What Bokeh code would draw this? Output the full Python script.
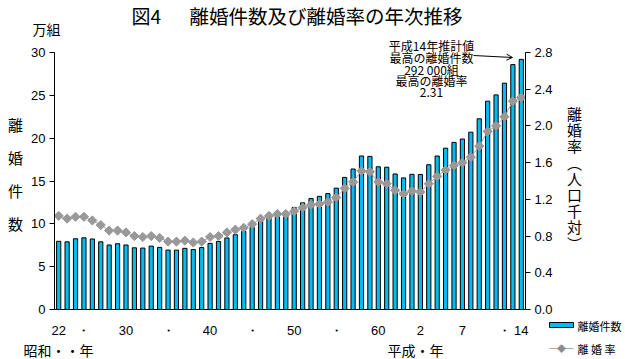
import math
from bokeh.plotting import figure
from bokeh.models import (Range1d, LinearAxis, FixedTicker, Arrow, OpenHead,
                          PrintfTickFormatter)
from bokeh.core.properties import value
from bokeh.embed import file_html
from bokeh.resources import INLINE

# ---- data: 昭和22年(1947) - 平成14年(2002) ----
counts = [7.96, 7.90, 8.26, 8.37, 8.23, 7.90, 7.53, 7.68, 7.53, 7.20,
          7.17, 7.40, 7.25, 6.94, 6.93, 7.14, 7.00, 7.23, 7.72, 7.94,
          8.35, 8.73, 9.13, 9.59, 10.36, 10.84, 11.19, 11.36, 11.91, 12.45,
          12.95, 13.21, 13.53, 14.17, 15.42, 16.40, 17.92, 17.87, 16.66, 16.61,
          15.82, 15.36, 15.78, 15.76, 16.90, 17.92, 18.83, 19.51, 19.90, 20.70,
          22.26, 24.32, 25.05, 26.42, 28.59, 29.20]  # 万組
rates = [1.02, 0.99, 1.01, 1.01, 0.97, 0.92, 0.86, 0.86, 0.84, 0.80,
         0.79, 0.80, 0.78, 0.74, 0.74, 0.75, 0.73, 0.74, 0.79, 0.80,
         0.84, 0.87, 0.89, 0.93, 0.99, 1.02, 1.04, 1.04, 1.07, 1.11,
         1.14, 1.15, 1.17, 1.22, 1.32, 1.39, 1.51, 1.50, 1.39, 1.37,
         1.30, 1.26, 1.29, 1.28, 1.37, 1.45, 1.52, 1.57, 1.60, 1.66,
         1.78, 1.94, 2.00, 2.10, 2.27, 2.31]  # 人口千対
tick_idx = [0, 3, 8, 13, 18, 23, 28, 33, 38, 43, 48, 53, 55]
tick_labels = ["22", "・", "30", "・", "40", "・", "50", "・", "60", "2", "7", "・", "14"]
left_ticks = [0, 5, 10, 15, 20, 25, 30]
right_ticks = [0.0, 0.4, 0.8, 1.2, 1.6, 2.0, 2.4, 2.8]

title_a = "図4"
title_b = "離婚件数及び離婚率の年次推移"
note_lines = ["平成14年推計値", "最高の離婚件数", "292 000組", "最高の離婚率", "2.31"]
left_label = "離婚件数"
right_label = "離婚率︵人口千対︶"
legend_bar = "離婚件数"
legend_line = "離 婚 率"

BAR = "#00BCF2"
GRAY = "#999999"
LGRAY = "#A8A8A8"
JP = "Noto Sans CJK JP"
NUM = "Liberation Sans"

n = len(counts)
idx = list(range(n))

W, H = 625, 359
BL, BR, BT, BB = 54, 100, 52, 50
FL, FR, FT, FB = BL, W - BR, BT, H - BB

def X(px):
    return -0.5 + (px - FL) / (FR - FL) * n

def Y(py):
    return (FB - py) / (FB - FT) * 30.0

p = figure(width=W, height=H, x_range=Range1d(-0.5, n - 0.5), y_range=Range1d(0, 30),
           output_backend="svg", toolbar_location=None,
           min_border_left=BL, min_border_right=BR, min_border_top=BT, min_border_bottom=BB)
p.outline_line_color = None
p.grid.visible = False
p.background_fill_color = "white"
p.border_fill_color = "white"
p.extra_y_ranges = {"rate": Range1d(0, 2.8)}

# bottom axis
xa = p.below[0]
xa.ticker = FixedTicker(ticks=tick_idx)
xa.major_label_overrides = {i: s for i, s in zip(tick_idx, tick_labels)}
xa.major_tick_line_color = None
xa.minor_tick_line_color = None
xa.major_tick_out = 0
xa.major_tick_in = 0
xa.major_label_standoff = 13
xa.major_label_text_font = NUM
xa.major_label_text_font_size = "13px"
xa.major_label_text_color = "black"
xa.axis_line_color = "black"

# left axis
ya = p.left[0]
ya.ticker = FixedTicker(ticks=left_ticks)
ya.minor_tick_line_color = None
ya.major_tick_out = 5
ya.major_tick_in = 0
ya.major_label_standoff = 4
ya.major_label_text_font = NUM
ya.major_label_text_font_size = "13px"
ya.major_label_text_color = "black"
ya.axis_line_color = "black"
ya.major_tick_line_color = "black"

# right axis
ra = LinearAxis(y_range_name="rate", ticker=FixedTicker(ticks=right_ticks),
                formatter=PrintfTickFormatter(format="%.1f"))
ra.minor_tick_line_color = None
ra.major_tick_out = 5
ra.major_tick_in = 0
ra.major_label_standoff = 4
ra.major_label_text_font = NUM
ra.major_label_text_font_size = "13px"
ra.major_label_text_color = "black"
ra.axis_line_color = "black"
ra.major_tick_line_color = "black"
p.add_layout(ra, "right")

# bars
p.vbar(x=idx, top=counts, width=0.5, fill_color=BAR, line_color="black", line_width=1)
# rate line
p.line(idx, rates, y_range_name="rate", line_color=LGRAY, line_width=1)
p.scatter(idx, rates, y_range_name="rate", marker="square", angle=math.pi / 4, size=6.5,
          fill_color=GRAY, line_color=GRAY)

def txt(text, px, py, size, align="left", font=JP, color="black"):
    p.text(x=[X(px)], y=[Y(py)], text=[text], text_font=value(font),
           text_font_size=value(size), text_align=align, text_baseline="middle",
           text_color=color, level="overlay")

# title
txt(title_a, 131, 15, "19px")
txt(title_b, 189, 15, "19.5px")
# unit
txt("万組", 46, 28, "14px", align="center")
# left vertical label
for k, ch in enumerate(left_label):
    txt(ch, 15, 124 + 33 * k, "15px", align="center")
# right vertical label
for k, ch in enumerate(right_label):
    txt(ch, 574, 113 + 16.2 * k, "15px", align="center")
# era labels
txt("昭和・・年", 23, 349, "14px")
txt("平成・年", 387, 349, "14px")
# note
for k, t in enumerate(note_lines):
    txt(t, 431, 45 + 11.8 * k, "12px", align="center")
p.add_layout(Arrow(end=OpenHead(size=6, line_width=1, line_color="black"),
                   x_start=X(473), y_start=Y(55), x_end=X(512), y_end=Y(57),
                   line_width=1, line_color="black", level="overlay"))

# legend (manual, unclipped overlay glyphs)
p.quad(left=[X(549)], right=[X(573)], top=[Y(322)], bottom=[Y(327)],
       fill_color=BAR, line_color="black", line_width=1, level="overlay")
txt(legend_bar, 577, 325, "11px")
p.segment(x0=[X(549)], y0=[Y(348)], x1=[X(573)], y1=[Y(348)],
          line_color=LGRAY, line_width=1, level="overlay")
txt("◆", 561, 348, "9px", align="center", color="#8C8C8C")
txt(legend_line, 577, 348, "11px")

open("out.html", "w").write(file_html(p, INLINE))
